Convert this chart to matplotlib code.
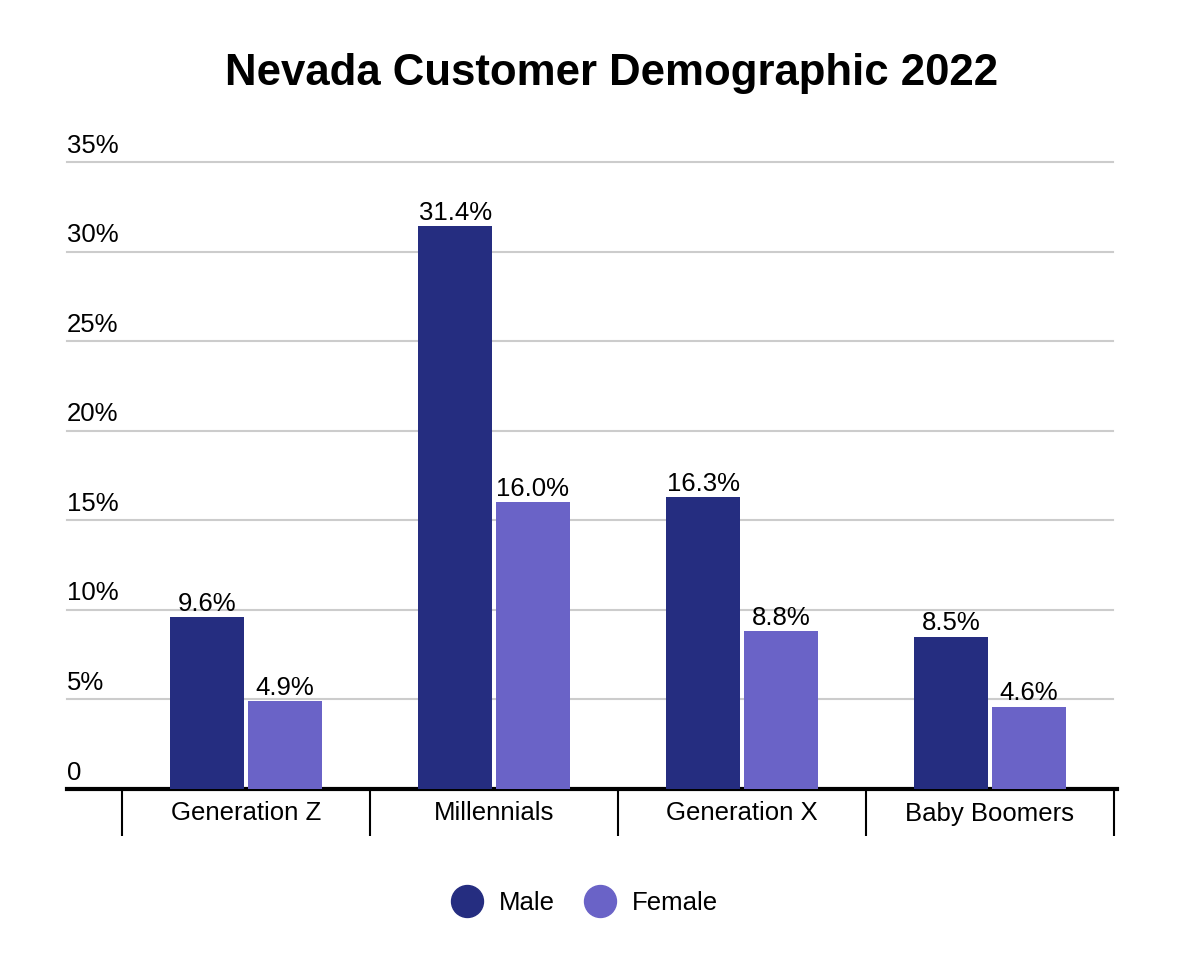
import matplotlib
matplotlib.use('Agg')
from matplotlib import pyplot as plt
from matplotlib.lines import Line2D
from matplotlib import transforms
import numpy as np

plt.rcParams['font.family'] = ['Liberation Sans', 'DejaVu Sans']

categories = ['Generation Z', 'Millennials', 'Generation X', 'Baby Boomers']
male = [9.6, 31.4, 16.3, 8.5]
female = [4.9, 16.0, 8.8, 4.6]
y_ticks = [0, 5, 10, 15, 20, 25, 30, 35]
y_labels = ['0', '5%', '10%', '15%', '20%', '25%', '30%', '35%']

male_color = '#252d80'
female_color = '#6a63c7'
fs = 18.5

W, H = 1186, 973
fig = plt.figure(figsize=(W / 100, H / 100), dpi=100)
ax = fig.add_axes([67 / W, (H - 789) / H, (1117 - 67) / W, (789 - 162) / H])

x = np.arange(len(categories))
bw = 0.298
off = 0.157
b1 = ax.bar(x - off, male, bw, color=male_color, zorder=3)
b2 = ax.bar(x + off, female, bw, color=female_color, zorder=3)

for bars, vals in ((b1, male), (b2, female)):
    for rect, v in zip(bars, vals):
        ax.annotate('%.1f%%' % v, (rect.get_x() + rect.get_width() / 2, v),
                    xytext=(0, 1), textcoords='offset points',
                    ha='center', va='bottom', fontsize=fs, zorder=4)

ax.set_xlim(-0.5 - 55 / 248, 3.5 + 3 / 248)
ax.set_ylim(0, 35)

# gridlines
for t in y_ticks[1:]:
    ax.plot([-0.5 - 55 / 248, 3.5 - 1 / 248], [t, t], color='#cccccc', lw=1.5, zorder=1,
            clip_on=False)

# y labels above gridlines
trans = transforms.blended_transform_factory(ax.transAxes, ax.transData)
for t, lab in zip(y_ticks, y_labels):
    ax.text(0, t + 0.25, lab, transform=trans, ha='left', va='bottom', fontsize=fs)

ax.set_yticks([])
for s in ['top', 'right', 'left']:
    ax.spines[s].set_visible(False)
ax.spines['bottom'].set_linewidth(3)
ax.spines['bottom'].set_color('black')

ax.set_xticks(x)
ax.set_xticklabels(categories, fontsize=fs)
ax.tick_params(axis='x', which='major', length=0, pad=9)
ax.set_xticks(np.arange(-0.5, 4, 1), minor=True)
ax.tick_params(axis='x', which='minor', length=34, width=1.5, color='black')

fig.text(612 / W, 1 - 73 / H, 'Nevada Customer Demographic 2022', ha='center', va='center',
         fontsize=31.5, fontweight='bold')

handles = [Line2D([], [], marker='o', linestyle='none', markersize=23, color=male_color),
           Line2D([], [], marker='o', linestyle='none', markersize=23, color=female_color)]
fig.legend(handles, ['Male', 'Female'], loc='center', bbox_to_anchor=(583 / W, 1 - 903 / H),
           ncol=2, frameon=False, fontsize=fs, handletextpad=0.5, columnspacing=1.0,
           handlelength=1.5)

fig.savefig('out.png', dpi=100)
